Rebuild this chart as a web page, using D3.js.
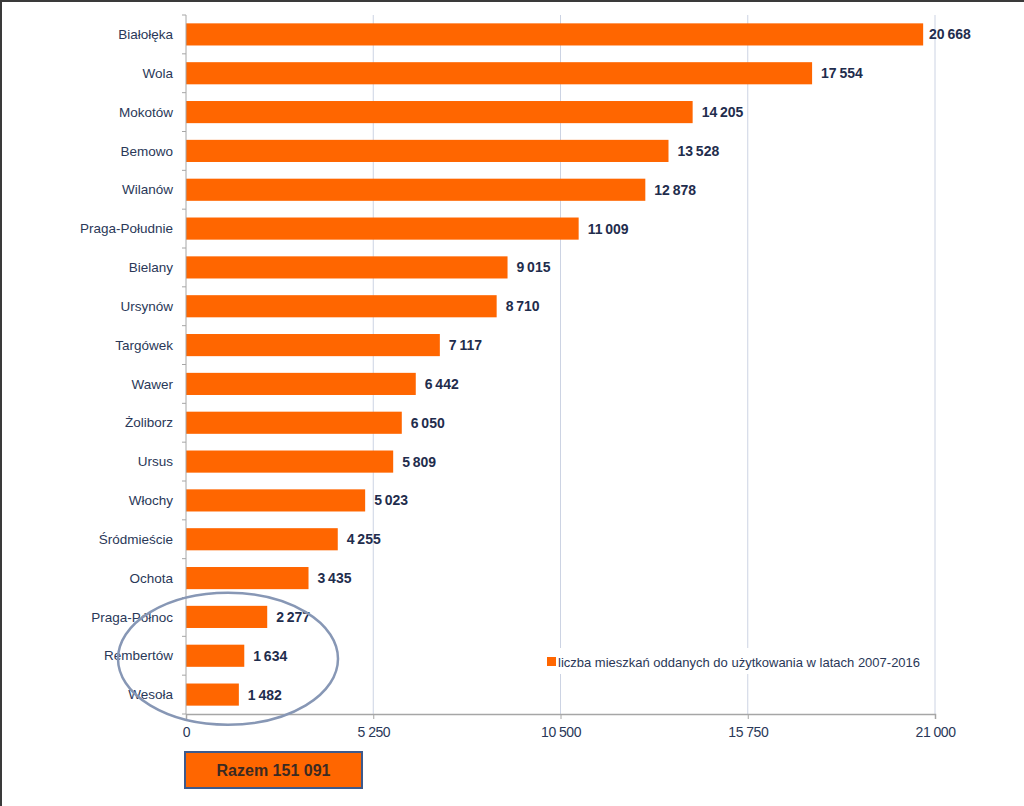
<!DOCTYPE html>
<html>
<head>
<meta charset="utf-8">
<script src="https://cdn.jsdelivr.net/npm/d3@7"></script>
<style>
  html, body { margin: 0; padding: 0; background: #fff; }
  svg { display: block; }
</style>
</head>
<body>
<svg id="chart" width="1024" height="806"></svg>
<script>
const categories = ["Białołęka","Wola","Mokotów","Bemowo","Wilanów","Praga-Południe","Bielany","Ursynów","Targówek","Wawer","Żoliborz","Ursus","Włochy","Śródmieście","Ochota","Praga-Północ","Rembertów","Wesoła"];
const values = [20668,17554,14205,13528,12878,11009,9015,8710,7117,6442,6050,5809,5023,4255,3435,2277,1634,1482];
const tickValues = [0,5250,10500,15750,21000];
const seriesName = "liczba mieszkań oddanych do użytkowania w latach 2007-2016";
const totalLabel = "Razem 151 091";
const circled = ["Praga-Północ","Rembertów","Wesoła"];

const fmt = v => d3.format(",")(v).replace(/,/g, "\u2009");
const fmtTick = v => d3.format(",")(v).replace(/,/g, " ");

const svg = d3.select("#chart");
const mLeft = 186, mRight = 935, mTop = 15, mBottom = 714;
const textColor = "#1f2d4d";
const labelColor = "#2a3858";

// frame lines (top & left)
svg.append("line").attr("x1",0).attr("x2",1024).attr("y1",1).attr("y2",1).attr("stroke","#3a3a3a").attr("stroke-width",2);
svg.append("line").attr("x1",1).attr("x2",1).attr("y1",0).attr("y2",806).attr("stroke","#3a3a3a").attr("stroke-width",2);

const x = d3.scaleLinear().domain([0,21000]).range([mLeft,mRight]);
const y = d3.scaleBand().domain(categories).range([mTop,mBottom]).paddingInner(0.43).paddingOuter(0.215);

// gridlines
svg.append("g").selectAll("line").data(tickValues.slice(1)).join("line")
  .attr("x1",d=>x(d)).attr("x2",d=>x(d)).attr("y1",mTop).attr("y2",mBottom)
  .attr("stroke","#ccd3e3").attr("stroke-width",1);

// bars
svg.append("g").selectAll("rect").data(categories).join("rect")
  .attr("x",x(0)).attr("y",d=>y(d))
  .attr("width",(d,i)=>x(values[i])-x(0))
  .attr("height",y.bandwidth())
  .attr("fill","#ff6600");

// value labels
svg.append("g").selectAll("text").data(categories).join("text")
  .attr("x",(d,i)=>Math.min(x(values[i])+9, mRight-6))
  .attr("y",d=>y(d)+y.bandwidth()/2)
  .attr("dy","0.36em")
  .attr("font-family","'Liberation Sans Narrow','Arial Narrow',sans-serif")
  .attr("font-weight","bold")
  .attr("font-size",14)
  .attr("fill",textColor)
  .text((d,i)=>fmt(values[i]));

// y axis
const yAxis = svg.append("g").attr("transform",`translate(${mLeft},0)`);
yAxis.append("line").attr("x1",0).attr("x2",0).attr("y1",mTop).attr("y2",mBottom).attr("stroke","#a6a6a6");
const bounds = d3.range(categories.length+1).map(i=>mTop + i*y.step());
yAxis.selectAll("line.tk").data(bounds).join("line").attr("class","tk")
  .attr("x1",-4).attr("x2",0).attr("y1",d=>d).attr("y2",d=>d).attr("stroke","#a6a6a6");
yAxis.selectAll("text").data(categories).join("text")
  .attr("x",-13).attr("y",d=>y(d)+y.bandwidth()/2).attr("dy","0.35em")
  .attr("text-anchor","end")
  .attr("font-family","'Liberation Sans',Arial,sans-serif")
  .attr("font-size",13.5).attr("fill",labelColor)
  .text(d=>d);

// x axis
const xAxis = svg.append("g").attr("transform",`translate(0,${mBottom})`)
  .call(d3.axisBottom(x).tickValues(tickValues).tickFormat(fmtTick).tickSize(5).tickPadding(8));
xAxis.select(".domain").attr("stroke","#a6a6a6").attr("stroke-width",1.5);
xAxis.selectAll(".tick line").attr("stroke","#a6a6a6");
xAxis.selectAll(".tick text").attr("font-family","'Liberation Sans',Arial,sans-serif")
  .attr("font-size",14).attr("fill",labelColor).attr("letter-spacing","-0.5px");

// legend
const lg = svg.append("g");
lg.append("rect").attr("x",538).attr("y",648).attr("width",392).attr("height",26).attr("fill","#fff");
lg.append("rect").attr("x",547).attr("y",657).attr("width",9).attr("height",9).attr("fill","#ff6600");
lg.append("text").attr("x",558).attr("y",662).attr("dy","0.35em")
  .attr("font-family","'Liberation Sans',Arial,sans-serif").attr("font-size",13)
  .attr("fill",labelColor).text(seriesName);

// ellipse around smallest districts
const cy0 = y(circled[0]), cy1 = y(circled[circled.length-1]) + y.bandwidth();
svg.append("ellipse").attr("cx",228).attr("cy",(cy0+cy1)/2 + 3).attr("rx",110).attr("ry",66)
  .attr("fill","none").attr("stroke","#8797b5").attr("stroke-width",2.5);

// total box
svg.append("rect").attr("x",185).attr("y",752).attr("width",177).attr("height",36)
  .attr("fill","#ff6600").attr("stroke","#3d5a8c").attr("stroke-width",2);
svg.append("text").attr("x",273.5).attr("y",770).attr("dy","0.36em").attr("text-anchor","middle")
  .attr("font-family","'Liberation Sans',Arial,sans-serif").attr("font-weight","bold")
  .attr("font-size",16).attr("fill","#3b2a22").text(totalLabel);
</script>
</body>
</html>
